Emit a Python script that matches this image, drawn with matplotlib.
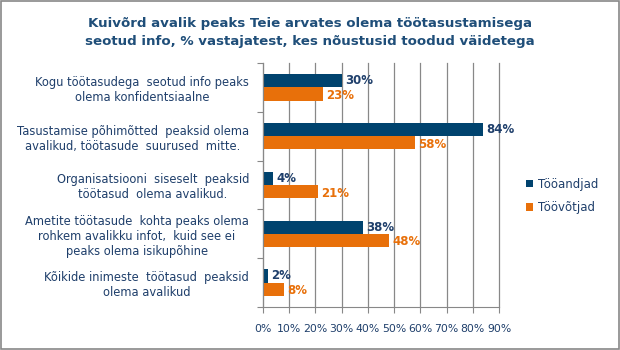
import matplotlib.pyplot as plt
import numpy as np

categories = [
    'Kogu töötasudega  seotud info peaks\nolema konfidentsiaalne',
    'Tasustamise põhimõtted  peaksid olema\navalikud, töötasude  suurused  mitte.',
    'Organisatsiooni  siseselt  peaksid\ntöötasud  olema avalikud.',
    'Ametite töötasude  kohta peaks olema\nrohkem avalikku infot,  kuid see ei\npeaks olema isikupõhine',
    'Kõikide inimeste  töötasud  peaksid\nolema avalikud',
]
tooandjad = [30, 84, 4, 38, 2]
toovotjad = [23, 58, 21, 48, 8]
xticks = [0, 10, 20, 30, 40, 50, 60, 70, 80, 90]

blue = '#00436E'
orange = '#E8700A'
textcol = '#1F3F6B'

fig = plt.figure(figsize=(6.2, 3.5), dpi=100)
fig.patches.append(plt.Rectangle((0.002, 0.003), 0.996, 0.994, transform=fig.transFigure,
                                 fill=False, edgecolor='#888888', linewidth=1.2))
ax = fig.add_axes([0.424, 0.123, 0.381, 0.697])

y = np.arange(len(categories))
h = 0.27
ax.barh(y - h / 2, tooandjad, height=h, color=blue, label='Tööandjad')
ax.barh(y + h / 2, toovotjad, height=h, color=orange, label='Töövõtjad')

for i in range(len(categories)):
    ax.text(tooandjad[i] + 1.2, y[i] - h / 2, f'{tooandjad[i]}%', va='center', ha='left',
            color=textcol, fontsize=8.5, fontweight='bold')
    ax.text(toovotjad[i] + 1.2, y[i] + h / 2 + 0.03, f'{toovotjad[i]}%', va='center', ha='left',
            color=orange, fontsize=8.5, fontweight='bold')

ax.set_ylim(4.5, -0.5)
ax.set_xlim(0, 90)
ax.set_xticks(xticks)
ax.set_xticklabels([f'{t}%' for t in xticks], color=textcol, fontsize=7.8)
ax.set_yticks(np.arange(-0.5, 5.0, 1.0), minor=False)
ax.set_yticklabels([])
ax.set_yticks(y, minor=True)
ax.set_yticklabels(categories, minor=True, color=textcol, fontsize=8.3, multialignment='center')
ax.tick_params(axis='y', which='minor', length=0, pad=10)
ax.tick_params(axis='y', which='major', length=4, color='#888888')
ax.tick_params(axis='x', length=4, color='#888888', pad=8)
ax.grid(axis='x', color='#888888', linewidth=0.9)
for gl in ax.get_xgridlines():
    gl.set_clip_on(False)
ax.set_axisbelow(True)
for s in ['top', 'right']:
    ax.spines[s].set_visible(False)
for s in ['left', 'bottom']:
    ax.spines[s].set_color('#888888')

fig.text(0.5, 0.907, 'Kuivõrd avalik peaks Teie arvates olema töötasustamisega\nseotud info, % vastajatest, kes nõustusid toodud väidetega',
         ha='center', va='center', fontsize=9.6, fontweight='bold', color='#1F4E79', linespacing=1.55)

ax.legend(loc='center left', bbox_to_anchor=(1.07, 0.455), frameon=False, fontsize=8.5,
          handlelength=0.6, handleheight=0.6, handletextpad=0.4, labelspacing=0.9,
          labelcolor=textcol)

fig.savefig('out.png', dpi=100)
